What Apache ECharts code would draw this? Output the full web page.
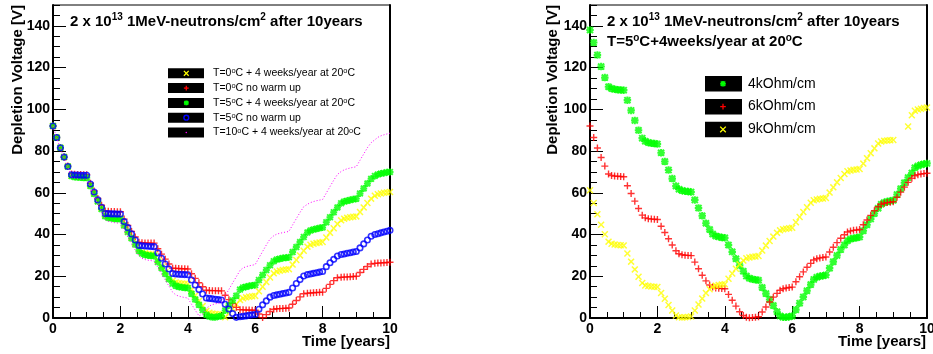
<!DOCTYPE html>
<html>
<head>
<meta charset="utf-8">
<script src="https://cdn.jsdelivr.net/npm/echarts@6/dist/echarts.min.js"></script>
<style>
  html, body { margin: 0; padding: 0; background: #fff; }
  #chart { width: 933px; height: 354px; }
</style>
</head>
<body>
<div id="chart"></div>
<script>
// Sampling times [years]: four points per irradiation period, then the shutdown period.
const timeYears = [0,
  0.11, 0.22, 0.33, 0.44, 0.55, 0.64, 0.73, 0.82, 0.91, 1.00,
  1.11, 1.22, 1.33, 1.44, 1.55, 1.64, 1.73, 1.82, 1.91, 2.00,
  2.11, 2.22, 2.33, 2.44, 2.55, 2.64, 2.73, 2.82, 2.91, 3.00,
  3.11, 3.22, 3.33, 3.44, 3.55, 3.64, 3.73, 3.82, 3.91, 4.00,
  4.11, 4.22, 4.33, 4.44, 4.55, 4.64, 4.73, 4.82, 4.91, 5.00,
  5.11, 5.22, 5.33, 5.44, 5.55, 5.64, 5.73, 5.82, 5.91, 6.00,
  6.11, 6.22, 6.33, 6.44, 6.55, 6.64, 6.73, 6.82, 6.91, 7.00,
  7.11, 7.22, 7.33, 7.44, 7.55, 7.64, 7.73, 7.82, 7.91, 8.00,
  8.11, 8.22, 8.33, 8.44, 8.55, 8.64, 8.73, 8.82, 8.91, 9.00,
  9.11, 9.22, 9.33, 9.44, 9.55, 9.64, 9.73, 9.82, 9.91, 10.00];

// Left panel: depletion voltage [V] for different storage scenarios
const vdep0CWarmUp = [92,
  86.5, 81.6, 77.1, 72.6, 68.3, 67.9, 67.7, 67.6, 67.5, 67.5,
  63.6, 59.8, 56.1, 52.6, 49.2, 48.6, 48.3, 48.2, 48.1, 48.0,
  44.8, 41.7, 38.7, 35.8, 32.8, 31.6, 31.0, 30.7, 30.5, 30.4,
  27.5, 24.7, 22.0, 19.4, 17.8, 17.0, 16.7, 16.5, 16.4, 16.3,
  13.5, 10.8, 8.2, 5.7, 3.4, 2.5, 2.1, 1.9, 1.8, 1.7,
  0.3, 2.3, 4.5, 6.6, 8.6, 9.5, 9.9, 10.2, 10.4, 10.6,
  12.8, 15.0, 17.2, 19.4, 21.4, 22.3, 22.7, 23.0, 23.2, 23.4,
  25.6, 27.8, 30.0, 32.2, 34.2, 35.1, 35.6, 35.9, 36.2, 36.4,
  38.6, 40.8, 43.0, 45.1, 46.8, 47.6, 48.0, 48.3, 48.5, 48.7,
  50.8, 53.0, 55.1, 57.2, 58.6, 59.3, 59.7, 60.0, 60.2, 60.4];

const vdep0CNoWarmUp = [92,
  86.5, 81.6, 77.1, 72.8, 69.0, 68.9, 68.8, 68.8, 68.7, 68.7,
  64.6, 60.9, 57.3, 54.0, 51.3, 51.1, 51.0, 51.0, 50.9, 50.9,
  47.4, 44.4, 41.5, 38.8, 36.3, 36.1, 36.0, 36.0, 35.9, 35.9,
  33.2, 30.6, 28.2, 25.9, 23.9, 23.8, 23.7, 23.6, 23.6, 23.5,
  21.2, 19.0, 16.9, 15.0, 13.3, 13.2, 13.1, 13.1, 13.0, 13.0,
  10.9, 8.8, 6.9, 5.1, 4.0, 3.9, 3.8, 3.8, 3.7, 3.7,
  1.9, 0.2, 1.6, 3.1, 4.2, 4.4, 4.5, 4.6, 4.7, 4.8,
  6.6, 8.4, 10.1, 11.6, 11.9, 12.0, 12.1, 12.2, 12.3, 12.4,
  14.2, 16.1, 17.9, 19.3, 19.5, 19.6, 19.7, 19.8, 19.9, 20.0,
  21.8, 23.3, 24.7, 25.9, 26.2, 26.3, 26.4, 26.5, 26.6, 26.7];

const vdep5CWarmUp = [92,
  86.5, 81.6, 77.1, 72.6, 68.0, 67.6, 67.4, 67.3, 67.2, 67.2,
  63.3, 59.5, 55.8, 52.2, 48.8, 48.1, 47.8, 47.6, 47.5, 47.4,
  44.3, 41.2, 38.2, 35.2, 32.2, 30.9, 30.3, 30.0, 29.8, 29.7,
  26.8, 24.0, 21.2, 18.6, 16.5, 15.5, 15.0, 14.7, 14.5, 14.4,
  11.6, 8.9, 6.3, 3.8, 1.6, 0.7, 0.3, 0.4, 0.7, 1.0,
  3.6, 6.0, 8.4, 10.7, 13.6, 14.6, 15.0, 15.3, 15.6, 15.8,
  18.2, 20.6, 23.0, 25.3, 27.2, 28.0, 28.4, 28.7, 28.9, 29.1,
  31.6, 34.0, 36.4, 38.8, 41.0, 41.9, 42.4, 42.8, 43.1, 43.4,
  45.9, 48.3, 50.7, 53.0, 55.0, 55.8, 56.2, 56.6, 56.9, 57.2,
  59.7, 62.1, 64.5, 66.7, 68.1, 68.8, 69.2, 69.5, 69.8, 70.0];

const vdep5CNoWarmUp = [92,
  86.5, 81.6, 77.1, 72.6, 68.6, 68.5, 68.5, 68.4, 68.4, 68.4,
  64.2, 60.4, 56.6, 53.1, 50.1, 50.0, 49.9, 49.9, 49.8, 49.8,
  46.2, 43.3, 40.3, 37.4, 34.8, 34.6, 34.5, 34.4, 34.3, 34.2,
  31.3, 28.6, 25.9, 23.5, 21.3, 21.1, 21.0, 20.9, 20.8, 20.7,
  18.2, 15.8, 13.6, 11.5, 9.6, 9.4, 9.2, 9.0, 8.8, 8.6,
  6.6, 4.3, 2.1, 0.3, 0.6, 0.8, 1.0, 1.3, 1.5, 1.7,
  4.2, 6.3, 8.2, 10.0, 10.8, 11.1, 11.4, 11.7, 12.0, 12.3,
  14.4, 16.5, 18.4, 20.1, 20.8, 21.1, 21.4, 21.7, 22.0, 22.3,
  24.6, 26.5, 28.1, 29.7, 30.4, 30.7, 31.0, 31.3, 31.6, 31.9,
  33.6, 35.5, 37.4, 39.2, 40.0, 40.4, 40.8, 41.2, 41.6, 42.0];

const vdep10CWarmUp = [92,
  86.3, 81.3, 76.7, 72.2, 67.6, 67.0, 66.7, 66.5, 66.4, 66.3,
  62.2, 58.3, 54.5, 50.8, 47.2, 46.4, 46.0, 45.7, 45.5, 45.4,
  42.0, 38.8, 35.7, 32.6, 29.8, 28.6, 28.0, 27.7, 27.5, 27.3,
  24.3, 21.2, 18.2, 15.3, 12.4, 11.1, 10.5, 10.1, 9.8, 9.6,
  6.6, 3.8, 1.0, 1.8, 4.6, 5.8, 6.4, 6.8, 7.1, 7.4,
  10.6, 13.7, 16.8, 19.8, 22.8, 24.0, 24.6, 25.0, 25.3, 25.6,
  28.8, 31.9, 35.0, 37.9, 39.4, 40.2, 40.6, 40.9, 41.2, 41.5,
  44.6, 47.6, 50.6, 53.3, 54.5, 55.3, 55.8, 56.2, 56.5, 56.8,
  59.9, 63.0, 66.0, 68.8, 70.2, 71.0, 71.5, 71.9, 72.2, 72.5,
  75.6, 78.6, 81.6, 84.0, 85.4, 86.6, 87.3, 87.8, 88.2, 88.6];

// Right panel: T=5 C + 4 weeks/year at 20 C, different initial resistivities
const vdep4kOhm = [138.0,
  132.0, 126.0, 120.5, 115.2, 110.8, 110.0, 109.6, 109.4, 109.3, 109.2,
  104.4, 99.5, 94.7, 90.0, 86.2, 84.7, 84.1, 83.8, 83.6, 83.4,
  79.2, 75.0, 70.9, 66.8, 63.2, 61.7, 61.1, 60.8, 60.6, 60.4,
  56.6, 52.7, 49.0, 45.4, 42.4, 40.2, 39.3, 38.9, 38.6, 38.4,
  35.0, 31.7, 28.4, 25.2, 22.4, 20.1, 19.1, 18.6, 18.3, 18.1,
  14.6, 11.7, 8.9, 6.0, 3.0, 1.0, 0.3, 0.3, 0.6, 0.9,
  4.0, 7.1, 10.1, 13.1, 16.0, 18.5, 19.5, 20.0, 20.3, 20.6,
  23.9, 27.0, 30.0, 32.8, 35.0, 37.0, 37.8, 38.2, 38.5, 38.8,
  41.8, 44.7, 47.5, 50.1, 52.6, 54.5, 55.3, 55.8, 56.1, 56.4,
  59.2, 62.0, 64.8, 67.3, 69.5, 72.0, 72.9, 73.4, 73.8, 74.1];

const vdep6kOhm = [92.0,
  86.5, 81.5, 76.9, 72.8, 69.0, 68.3, 68.0, 67.9, 67.8, 67.7,
  63.4, 59.7, 56.0, 52.5, 49.3, 48.0, 47.6, 47.4, 47.3, 47.2,
  44.0, 41.0, 38.0, 35.0, 32.2, 30.8, 30.3, 30.1, 30.0, 29.9,
  26.8, 23.6, 20.5, 17.8, 15.8, 14.8, 14.4, 14.2, 14.1, 14.0,
  11.3, 8.5, 5.7, 3.0, 1.2, 0.3, 0.1, 0.2, 0.4, 0.6,
  2.9, 5.3, 7.7, 10.0, 11.8, 13.3, 14.0, 14.4, 14.6, 14.8,
  17.4, 19.8, 22.1, 24.3, 26.2, 27.8, 28.4, 28.8, 29.0, 29.2,
  31.6, 33.9, 36.1, 38.2, 39.9, 41.2, 41.7, 42.0, 42.2, 42.4,
  44.7, 47.0, 49.2, 51.4, 53.3, 54.5, 55.0, 55.3, 55.5, 55.7,
  57.9, 60.3, 62.7, 65.0, 67.0, 68.2, 68.7, 69.0, 69.2, 69.4];

const vdep9kOhm = [61.2,
  55.1, 49.7, 44.7, 40.1, 36.6, 35.6, 35.2, 35.0, 34.9, 34.8,
  30.9, 27.0, 23.3, 19.8, 16.8, 15.6, 15.3, 15.1, 15.0, 14.9,
  12.0, 9.2, 6.2, 3.6, 1.2, 0.3, 0.2, 0.3, 0.5, 0.7,
  3.6, 6.5, 9.3, 12.0, 13.8, 15.0, 15.5, 15.8, 16.0, 16.2,
  18.8, 21.3, 23.6, 25.7, 27.5, 28.6, 29.0, 29.3, 29.5, 29.7,
  32.3, 34.7, 36.9, 39.0, 40.8, 42.0, 42.5, 42.8, 43.0, 43.2,
  45.9, 48.4, 50.8, 53.1, 55.2, 56.4, 56.8, 57.1, 57.3, 57.5,
  60.1, 62.6, 65.0, 67.1, 69.0, 70.3, 70.7, 71.0, 71.2, 71.4,
  74.0, 76.6, 79.0, 81.3, 83.6, 84.6, 84.9, 85.1, 85.2, 85.3,
  null, null, null, 91.8, 97.2, 99.3, 99.9, 100.3, 100.6, 100.9];

// Axis ranges and tick steps
const timeRange = [0, 10];
const timeMajorStep = 2;
const voltageRange = [0, 150];
const voltageMajorStep = 20;
const voltageMinorStep = 5;

// Legend texts (rich-text markup: {s|o} is a raised degree sign)
const leftLegendLabels = [
  'T=0{s|o}C + 4 weeks/year at 20{s|o}C',
  'T=0{s|o}C no warm up',
  'T=5{s|o}C + 4 weeks/year at 20{s|o}C',
  'T=5{s|o}C no warm up',
  'T=10{s|o}C + 4 weeks/year at 20{s|o}C'
];
const rightLegendLabels = ['4kOhm/cm', '6kOhm/cm', '9kOhm/cm'];

const FONT = '"Liberation Sans", Arial, Helvetica, sans-serif';
const YELLOW = '#ffff00', RED = '#ff0000', GREEN = '#00ff00', BLUE = '#0000ff', MAGENTA = '#ff00ff';

// Marker shapes
const MARK_X = 'path://M0,1.5L1.5,0L5,3.5L8.5,0L10,1.5L6.5,5L10,8.5L8.5,10L5,6.5L1.5,10L0,8.5L3.5,5Z';
const MARK_PLUS = 'path://M4,0H6V4H10V6H6V10H4V6H0V4H4Z';
const MARK_STAR = 'path://M3.6,0H6.4V3.6H10V6.4H6.4V10H3.6V6.4H0V3.6H3.6Z M0,1.9L1.9,0L5,3.1L8.1,0L10,1.9L6.9,5L10,8.1L8.1,10L5,6.9L1.9,10L0,8.1L3.1,5Z';

function pairs(values) {
  const out = [];
  values.forEach((v, i) => { if (v !== null) out.push([timeYears[i], v]); });
  return out;
}

function axesFor(gridIndex) {
  const lbl = { color: '#000', fontFamily: FONT, fontWeight: 'bold', fontSize: 14 };
  const x = {
    gridIndex, type: 'value', min: timeRange[0], max: timeRange[1], interval: timeMajorStep,
    axisLine: { lineStyle: { color: '#000', width: 2 } },
    axisTick: { inside: true, length: 12, lineStyle: { color: '#000', width: 1 } },
    minorTick: { show: true, splitNumber: 4, length: 6, lineStyle: { color: '#000', width: 1 } },
    axisLabel: Object.assign({ margin: 4 }, lbl),
    splitLine: { show: false }
  };
  const yMain = {
    gridIndex, type: 'value', min: voltageRange[0], max: voltageRange[1], interval: voltageMajorStep,
    position: 'left',
    axisLine: { onZero: false, lineStyle: { color: '#000', width: 2 } },
    axisTick: { inside: true, length: 13, lineStyle: { color: '#000', width: 1 } },
    axisLabel: Object.assign({ margin: 3, showMaxLabel: false }, lbl),
    splitLine: { show: false }
  };
  const yMinor = {
    gridIndex, type: 'value', min: voltageRange[0], max: voltageRange[1], interval: voltageMinorStep,
    position: 'left',
    axisLine: { show: false },
    axisTick: { inside: true, length: 7, lineStyle: { color: '#000', width: 1 } },
    axisLabel: { show: false },
    splitLine: { show: false }
  };
  const yFrame = {
    gridIndex, type: 'value', min: voltageRange[0], max: voltageRange[1], position: 'right',
    axisLine: { onZero: false, lineStyle: { color: '#000', width: 2 } },
    axisTick: { show: false }, axisLabel: { show: false }, splitLine: { show: false }
  };
  return { x, ys: [yMain, yMinor, yFrame] };
}

const leftAxes = axesFor(0);
const rightAxes = axesFor(1);

function scatter(xi, yi, values, symbol, size, itemStyle) {
  return {
    type: 'scatter', xAxisIndex: xi, yAxisIndex: yi, data: pairs(values),
    symbol, symbolSize: size, itemStyle, silent: true
  };
}

const series = [
  scatter(0, 0, vdep0CWarmUp, MARK_X, 7, { color: YELLOW }),
  scatter(0, 0, vdep0CNoWarmUp, MARK_PLUS, 7, { color: RED }),
  scatter(0, 0, vdep5CWarmUp, MARK_STAR, 7, { color: GREEN }),
  scatter(0, 0, vdep5CNoWarmUp, 'circle', 5.5, { color: 'rgba(0,0,0,0)', borderColor: BLUE, borderWidth: 1.6 }),
  {
    type: 'line', xAxisIndex: 0, yAxisIndex: 0, data: pairs(vdep10CWarmUp),
    symbol: 'none', showSymbol: false, silent: true,
    lineStyle: { color: MAGENTA, width: 1, type: [1, 2] }
  },
  scatter(1, 3, vdep4kOhm, MARK_STAR, 7.5, { color: GREEN }),
  scatter(1, 3, vdep6kOhm, MARK_PLUS, 7, { color: RED }),
  scatter(1, 3, vdep9kOhm, MARK_X, 7, { color: YELLOW })
];

// ---- Text and legends drawn as graphic elements ----
const titleRich = {
  b: { fontFamily: FONT, fontWeight: 'bold', fontSize: 15, lineHeight: 18, fill: '#000' },
  s: { fontFamily: FONT, fontWeight: 'bold', fontSize: 10, lineHeight: 8, verticalAlign: 'top', fill: '#000' }
};

function richText(x, y, text, rich) {
  return { type: 'text', x, y, silent: true,
    style: { text, rich, align: 'left', verticalAlign: 'top', fill: '#000' } };
}

function axisTitleY(x, text) {
  return { type: 'text', x, y: 5, rotation: Math.PI / 2, silent: true,
    style: { text, font: 'bold 15px ' + FONT, fill: '#000', align: 'right', verticalAlign: 'middle' } };
}
function axisTitleX(x, text) {
  return { type: 'text', x, y: 342, silent: true,
    style: { text, font: 'bold 15px ' + FONT, fill: '#000', align: 'right', verticalAlign: 'middle' } };
}

function lineEl(x1, y1, x2, y2, color, w) {
  return { type: 'line', silent: true, shape: { x1, y1, x2, y2 }, style: { stroke: color, lineWidth: w } };
}
function markerEls(kind, cx, cy, r, color) {
  if (kind === 'x') return [lineEl(cx - r, cy - r, cx + r, cy + r, color, 1.3), lineEl(cx - r, cy + r, cx + r, cy - r, color, 1.3)];
  if (kind === '+') return [lineEl(cx - r, cy, cx + r, cy, color, 1.3), lineEl(cx, cy - r, cx, cy + r, color, 1.3)];
  if (kind === '*') return [
    lineEl(cx - r, cy, cx + r, cy, color, 1.8), lineEl(cx, cy - r, cx, cy + r, color, 1.8),
    lineEl(cx - r * 0.8, cy - r * 0.8, cx + r * 0.8, cy + r * 0.8, color, 1.5),
    lineEl(cx - r * 0.8, cy + r * 0.8, cx + r * 0.8, cy - r * 0.8, color, 1.5)];
  if (kind === 'o') return [{ type: 'circle', silent: true, shape: { cx, cy, r }, style: { fill: 'none', stroke: color, lineWidth: 1.4 } }];
  return [{ type: 'circle', silent: true, shape: { cx, cy, r: 0.8 }, style: { fill: color } }];
}

const graphics = [];
// titles
graphics.push(richText(70, 12.7, '{b|2 x 10}{s|13}{b| 1MeV-neutrons/cm}{s|2}{b| after 10years}', titleRich));
graphics.push(richText(607, 12.7, '{b|2 x 10}{s|13}{b| 1MeV-neutrons/cm}{s|2}{b| after 10years}', titleRich));
graphics.push(richText(607, 33.3, '{b|T=5}{s|o}{b|C+4weeks/year at 20}{s|o}{b|C}', titleRich));
// axis titles
graphics.push(axisTitleY(17.5, 'Depletion Voltage [V]'));
graphics.push(axisTitleY(553, 'Depletion Voltage [V]'));
graphics.push(axisTitleX(390, 'Time [years]'));
graphics.push(axisTitleX(926, 'Time [years]'));

// left legend
const leftKinds = [['x', YELLOW], ['+', RED], ['*', GREEN], ['o', BLUE], ['.', MAGENTA]];
const legendRichSmall = {
  n: { fontFamily: FONT, fontSize: 10.5, lineHeight: 12, fill: '#000' },
  s: { fontFamily: FONT, fontSize: 7.5, lineHeight: 5, verticalAlign: 'top', fill: '#000' }
};
leftLegendLabels.forEach((label, i) => {
  const cy = 73.3 + i * 14.8;
  graphics.push({ type: 'rect', silent: true, shape: { x: 168, y: cy - 5, width: 36, height: 10 }, style: { fill: '#000' } });
  markerEls(leftKinds[i][0], 186.3, cy, 2.4, leftKinds[i][1]).forEach(e => graphics.push(e));
  const markup = '{n|' + label.replace(/\{s\|o\}/g, '}{s|o}{n|') + '}';
  graphics.push(richText(213, cy - 6, markup, legendRichSmall));
});

// right legend
const rightKinds = [['*', GREEN], ['+', RED], ['x', YELLOW]];
rightLegendLabels.forEach((label, i) => {
  const cy = 83.8 + i * 22.8;
  graphics.push({ type: 'rect', silent: true, shape: { x: 705, y: cy - 7.7, width: 37, height: 15.5 }, style: { fill: '#000' } });
  markerEls(rightKinds[i][0], 723, cy, 2.8, rightKinds[i][1]).forEach(e => graphics.push(e));
  graphics.push({ type: 'text', x: 748, y: cy, silent: true,
    style: { text: label, font: '14px ' + FONT, fill: '#000', align: 'left', verticalAlign: 'middle' } });
});

const chart = echarts.init(document.getElementById('chart'), null, { renderer: 'canvas' });
chart.setOption({
  animation: false,
  backgroundColor: '#ffffff',
  grid: [
    { left: 53, top: 5, width: 337, height: 313, show: true, borderColor: '#000', borderWidth: 1, backgroundColor: 'transparent', outerBoundsMode: 'none', containLabel: false },
    { left: 590, top: 5, width: 337, height: 313, show: true, borderColor: '#000', borderWidth: 1, backgroundColor: 'transparent', outerBoundsMode: 'none', containLabel: false }
  ],
  xAxis: [leftAxes.x, rightAxes.x],
  yAxis: leftAxes.ys.concat(rightAxes.ys),
  series,
  graphic: { elements: graphics }
});
</script>
</body>
</html>
